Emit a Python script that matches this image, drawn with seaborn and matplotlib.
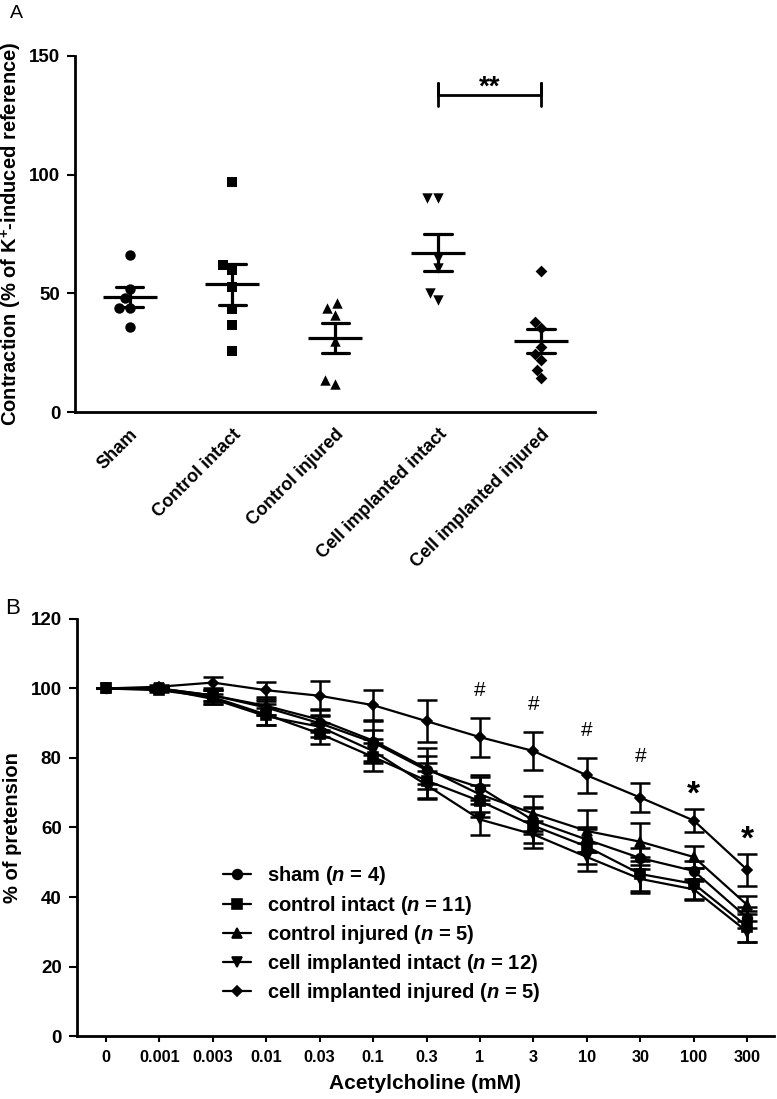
import numpy as np
import pandas as pd
import matplotlib
matplotlib.use('Agg')
import matplotlib.pyplot as plt
import seaborn as sns

# panel A data (contraction, % of K+-induced reference)
groups_a = ['Sham', 'Control intact', 'Control injured', 'Cell implanted intact', 'Cell implanted injured']
sham = [66, 52, 48, 44, 44, 36]
ctrl_intact = [97, 60, 62, 52.5, 43.5, 36.5, 25.5]
ctrl_injured = [46, 44, 41, 30, 12, 13.5]
cell_intact = [90, 90, 65, 60.5, 50, 47]
cell_injured = [59.5, 35.5, 38, 27.5, 24.5, 22, 17.5, 14.5]
markers_a = ['o', 's', '^', 'v', 'D']

# panel B data (% of pretension vs acetylcholine)
doses = ['0', '0.001', '0.003', '0.01', '0.03', '0.1', '0.3', '1', '3', '10', '30', '100', '300']
names_b = ['sham', 'control intact', 'control injured', 'cell implanted intact', 'cell implanted injured']
n_b = [4, 11, 5, 12, 5]
sham_b = [100, 100, 98, 94.5, 90, 84.5, 76.5, 71.5, 62, 56.5, 51.2, 47.5, 34]
sham_se = [0, 0.5, 1.5, 2, 2.5, 3.5, 4, 3.5, 4, 3.5, 3, 3, 3]
ci_b = [100, 99.5, 97.5, 92.5, 87, 80.3, 73.5, 67.6, 60.5, 54.5, 46.6, 43.8, 31.5]
ci_se = [0, 0.5, 2, 3, 3, 4, 5, 4.5, 5, 5, 5, 4.5, 4.5]
cinj_b = [100, 100, 98, 95, 91, 85, 77, 69.5, 64, 59, 55.9, 51.5, 37.7]
cinj_se = [0, 0.5, 1.5, 2.5, 3, 6, 6, 5, 5, 6, 5.5, 3.2, 2.5]
cell_i_b = [100, 100, 97, 92, 89, 82, 72.2, 62.3, 58, 51.5, 45.2, 42.2, 30]
cell_i_se = [0, 0.5, 1.5, 2.5, 3, 3.5, 4, 4.5, 4, 4, 4, 3, 3]
cell_inj_b = [100, 100.5, 101.7, 99.5, 97.9, 95.2, 90.6, 86, 82, 75, 68.6, 62, 47.8]
cell_inj_se = [0, 0.5, 1.7, 2.5, 4.2, 4.5, 6, 5.6, 5.5, 5, 4.1, 3.4, 4.5]
markers_b = ['o', 's', '^', 'v', 'D']
hash_doses = ['1', '3', '10', '30']
star_doses = ['100', '300']

FONT = ['Liberation Sans', 'DejaVu Sans']

sns.set_style('ticks')
plt.rcParams['font.family'] = FONT
plt.rcParams['font.weight'] = 'bold'
for k in ['text.color', 'axes.labelcolor', 'xtick.color', 'ytick.color', 'axes.edgecolor']:
    plt.rcParams[k] = 'black'
plt.rcParams['mathtext.fontset'] = 'custom'
plt.rcParams['mathtext.it'] = 'Liberation Sans:italic:bold'
plt.rcParams['mathtext.rm'] = 'Liberation Sans:bold'
plt.rcParams['mathtext.bf'] = 'Liberation Sans:bold'

fig = plt.figure(figsize=(7.77, 10.99), dpi=100)

# ---------------- panel A
axA = fig.add_axes([0.0965, 0.6251, 0.669, 0.324])
vals = [sham, ctrl_intact, ctrl_injured, cell_intact, cell_injured]
dfA = pd.DataFrame({'group': np.repeat(groups_a, [len(v) for v in vals]),
                    'value': np.concatenate(vals)})
for g, m in zip(groups_a, markers_a):
    sub = dfA[dfA.group == g]
    sns.swarmplot(data=sub, x='group', y='value', order=groups_a, marker=m,
                  color='k', size=6 if m == 'D' else 7.5, ax=axA)
sns.pointplot(data=dfA, x='group', y='value', order=groups_a, errorbar='se',
              capsize=0.27, markers='_', linestyle='none', color='k',
              markersize=39, markeredgewidth=2.3, err_kws={'linewidth': 2.3}, ax=axA)
axA.set_xlim(-0.53, 4.52)
axA.set_ylim(0, 150)
axA.set_yticks([0, 50, 100, 150])
axA.set_xlabel('')
axA.set_ylabel('Contraction (% of K$^{\\mathbf{+}}$-induced reference)',
               fontsize=14.5, fontweight='bold')
axA.yaxis.set_label_coords(-0.098, 0.5)
axA.tick_params(axis='y', labelsize=13.5, width=1.5, length=5.5, pad=5)
axA.tick_params(axis='x', length=0, pad=10)
for lab in axA.get_xticklabels():
    lab.set_rotation(45)
    lab.set_ha('right')
    lab.set_rotation_mode('anchor')
    lab.set_fontsize(13)
    lab.set_fontweight('bold')
for s in ['left', 'bottom']:
    axA.spines[s].set_linewidth(2)
sns.despine(ax=axA)

# significance bracket between the two cell implanted groups
axA.plot([3, 3, 3, 4, 4, 4], [129, 138.5, 133.7, 133.7, 138.5, 129], color='k', lw=2)
axA.text(3.5, 136.5, '**', ha='center', va='center', fontsize=20, fontweight='bold')

fig.text(0.013, 0.9877, 'A', fontsize=14, fontweight='normal', va='center')

# ---------------- panel B
axB = fig.add_axes([0.0991, 0.0573, 0.897, 0.3795])
means = [sham_b, ci_b, cinj_b, cell_i_b, cell_inj_b]
sems = [sham_se, ci_se, cinj_se, cell_i_se, cell_inj_se]
dfB = pd.DataFrame({'dose': doses * 5,
                    'group': np.repeat(names_b, len(doses)),
                    'mean': np.concatenate(means),
                    'sem': np.concatenate(sems)})
sns.pointplot(data=dfB, x='dose', y='mean', hue='group', order=doses, hue_order=names_b,
              markers=markers_b, linestyles='-', palette=['k'] * 5, errorbar=None,
              markersize=7, linewidth=1.6, ax=axB)
for ln in axB.lines:
    if ln.get_marker() == 'D':
        ln.set_markersize(5.2)
for g in names_b:
    sub = dfB[dfB.group == g]
    axB.errorbar(np.arange(len(doses)), sub['mean'], yerr=sub['sem'], fmt='none',
                 ecolor='k', elinewidth=1.8, capsize=7, capthick=1.8)

cii = dfB[dfB.group == 'cell implanted injured'].set_index('dose')
for d in hash_doses:
    axB.text(doses.index(d), cii.loc[d, 'mean'] + cii.loc[d, 'sem'] + 7.8, '#',
             ha='center', va='center', fontsize=15, fontweight='normal')
for d in star_doses:
    axB.text(doses.index(d), cii.loc[d, 'mean'] + cii.loc[d, 'sem'] + 4, '*',
             ha='center', va='center', fontsize=24, fontweight='bold')

handles, _ = axB.get_legend_handles_labels()
labels = ['%s ($\\mathit{n}$ = %d)' % (g, n) for g, n in zip(names_b, n_b)]
leg = axB.legend(handles, labels, loc='upper left', bbox_to_anchor=(0.198, 0.431),
                 frameon=False, borderaxespad=0, fontsize=14.5, labelspacing=0.31,
                 handlelength=1.4, handletextpad=0.8)
for h in leg.legend_handles:
    if h.get_marker() == 'D':
        h.set_markersize(5.2)

axB.set_xlim(-0.54, 12.5)
axB.set_ylim(0, 120)
axB.set_yticks(range(0, 121, 20))
axB.set_xlabel('Acetylcholine (mM)', fontsize=15, fontweight='bold')
axB.set_ylabel('% of pretension', fontsize=14.5, fontweight='bold')
axB.xaxis.set_label_coords(0.5, -0.091)
axB.yaxis.set_label_coords(-0.079, 0.5)
axB.tick_params(axis='y', labelsize=13.5, width=1.5, length=5.5, pad=5.5)
axB.tick_params(axis='x', labelsize=11.7, width=1.5, length=4, pad=6)
for s in ['left', 'bottom']:
    axB.spines[s].set_linewidth(2)
sns.despine(ax=axB)

fig.text(0.006, 0.4463, 'B', fontsize=16, fontweight='normal', va='center')

fig.savefig('out.png', dpi=100)
